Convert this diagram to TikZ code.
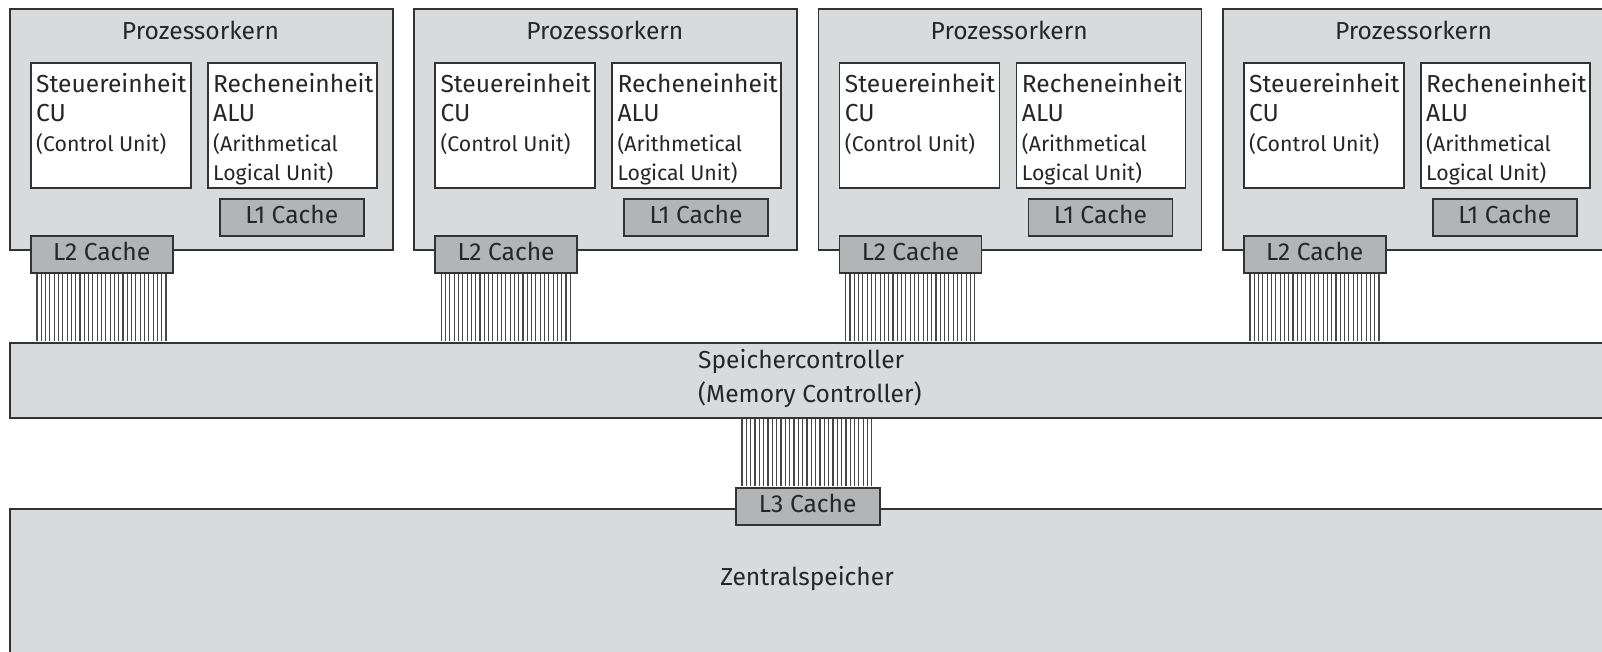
\documentclass[tikz,border=0pt]{standalone}
\usepackage{fontspec}
\setmainfont{Fira Sans}
\usetikzlibrary{calc}
\definecolor{boxgray}{HTML}{D9DADC}
\definecolor{cachegray}{HTML}{B3B4B6}
\definecolor{edgegray}{HTML}{333333}
\newcommand\labfont{\fontsize{24.6}{29.5}\selectfont}
\newcommand\notefont{\fontsize{21.3}{25}\selectfont}
\newcommand\mcfont{\fontsize{24.6}{34}\selectfont}
\tikzset{
  panel/.style={draw=edgegray, line width=1.5pt, fill=boxgray, rectangle,
    inner sep=0pt, anchor=north west},
  unitbox/.style={draw=edgegray, line width=1.5pt, fill=white, rectangle,
    inner sep=0pt, anchor=north west},
  cachebox/.style={draw=edgegray, line width=1.5pt, fill=cachegray, rectangle,
    inner sep=0pt, anchor=north west, font=\labfont, text=black!85,
    text height=17pt, text depth=5.5pt,
    minimum width=144pt, minimum height=37pt},
  unittext/.style={anchor=north west, align=left, inner sep=0pt, font=\labfont,
    text=black!85},
  wire/.style={draw=edgegray!90, line width=1.15pt}
}
\begin{document}
\begin{tikzpicture}[x=1pt,y=-1pt]
  \useasboundingbox (0,0) rectangle (1602,651);
  \clip (0,0) rectangle (1602,651);

  % memory controller bar
  \node[panel, minimum width=1611pt, minimum height=75pt] (mc) at (9,342) {};
  \node[unittext, font=\mcfont] (mctext) at (698,349)
    {Speichercontroller\\(Memory Controller)};

  % processor cores
  \foreach \k/\cx in {1/9, 2/413.3, 3/817.7, 4/1222} {
    \node[panel, minimum width=383pt, minimum height=241pt] (core\k) at (\cx,8) {};
    \node[anchor=base, font=\labfont, text=black!85, inner sep=0pt] (title\k)
      at (\cx+191.5,39.3) {Prozessorkern};
    \node[unitbox, minimum width=160pt, minimum height=125pt] (cu\k) at (\cx+21,62) {};
    \node[unittext] (cutext\k) at ($(cu\k.north west)+(6,11)$)
      {Steuereinheit\\CU\\\notefont(Control Unit)};
    \node[unitbox, minimum width=169pt, minimum height=125pt] (alu\k) at (\cx+198,62) {};
    \node[unittext] (alutext\k) at ($(alu\k.north west)+(6,11)$)
      {Recheneinheit\\ALU\\\notefont(Arithmetical\\\notefont Logical Unit)};
    \node[cachebox] (lonec\k) at (\cx+210,198) {L1 Cache};
    \node[cachebox, minimum width=142pt] (ltwoc\k) at (\cx+21,235) {L2 Cache};
    % bus lines from the L2 cache down to the memory controller
    \foreach \j in {0,...,30} {
      \draw[wire] ($(ltwoc\k.south west)+(7+\j*4.3,0.75)$)
        -- ($(ltwoc\k.south west |- mc.north)+(7+\j*4.3,-0.75)$);
    }
  }

  % main memory with L3 cache
  \node[panel, minimum width=1611pt, minimum height=170pt] (zs) at (9,508) {};
  \node[anchor=base, font=\labfont, text=black!85, inner sep=0pt] (zstext)
    at (807,585.7) {Zentralspeicher};
  \node[cachebox] (lthreec) at (735,487) {L3 Cache};
  \foreach \j in {0,...,30} {
    \draw[wire] ($(lthreec.north west)+(7+\j*4.33,-0.75)$)
      -- ($(lthreec.north west |- mc.south)+(7+\j*4.33,0.75)$);
  }
\end{tikzpicture}
\end{document}
